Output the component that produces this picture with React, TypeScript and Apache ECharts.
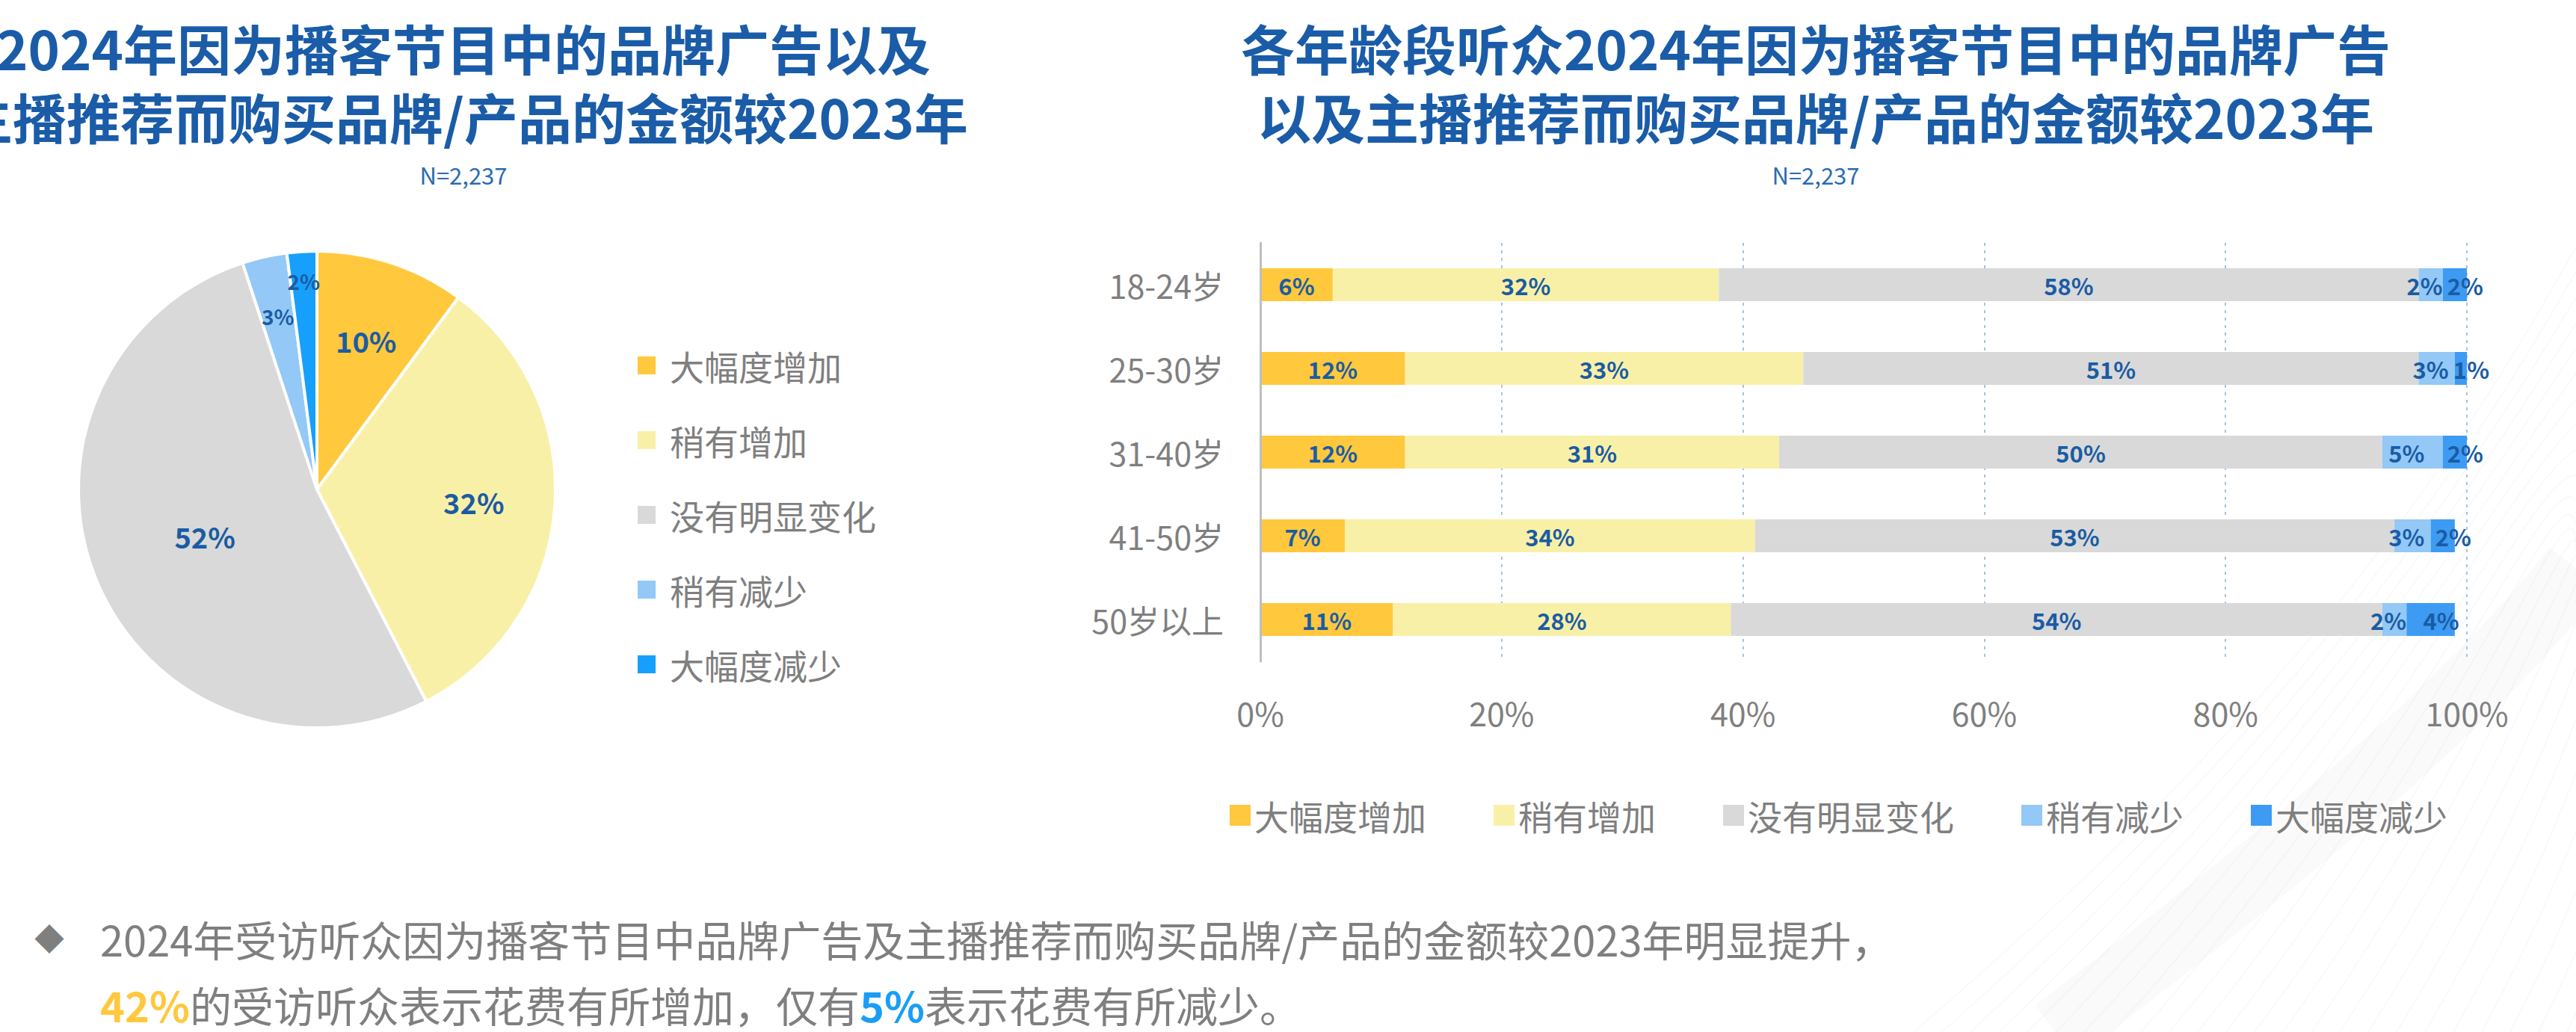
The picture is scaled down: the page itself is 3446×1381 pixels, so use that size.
import React, { useEffect, useRef } from 'react';
import * as echarts from 'echarts';

// Response categories (shared by both charts)
const SERIES_NAMES = ['大幅度增加', '稍有增加', '没有明显变化', '稍有减少', '大幅度减少'];

// Overall share of respondents (%)
const PIE_VALUES = [10, 32, 52, 3, 2];

// Breakdown by age group (%)
const AGE_GROUPS = ['18-24岁', '25-30岁', '31-40岁', '41-50岁', '50岁以上'];
const BIG_INCREASE = [6, 12, 12, 7, 11];
const SLIGHT_INCREASE = [32, 33, 31, 34, 28];
const NO_CHANGE = [58, 51, 50, 53, 54];
const SLIGHT_DECREASE = [2, 3, 5, 3, 2];
const BIG_DECREASE = [2, 1, 2, 2, 4];
const BAR_DATA = [BIG_INCREASE, SLIGHT_INCREASE, NO_CHANGE, SLIGHT_DECREASE, BIG_DECREASE];

// Value axis ticks
const X_MIN = 0;
const X_MAX = 100;
const X_STEP = 20;

const SAMPLE_SIZE = 'N=2,237';
const LEFT_TITLE = ['2024年因为播客节目中的品牌广告以及', '主播推荐而购买品牌/产品的金额较2023年'];
const RIGHT_TITLE = ['各年龄段听众2024年因为播客节目中的品牌广告', '以及主播推荐而购买品牌/产品的金额较2023年'];
const SUMMARY_LINE_1 = '2024年受访听众因为播客节目中品牌广告及主播推荐而购买品牌/产品的金额较2023年明显提升，';
const SUMMARY_INCREASE = '42%';
const SUMMARY_MID = '的受访听众表示花费有所增加，仅有';
const SUMMARY_DECREASE = '5%';
const SUMMARY_END = '表示花费有所减少。';

const PIE_COLORS = ['#FFC83D', '#F9F0A8', '#D9D9D9', '#93C8F7', '#17A0FB'];
const BAR_COLORS = ['#FFC83D', '#F9F0A8', '#D9D9D9', '#93C8F7', '#3D9BF3'];
const TITLE_BLUE = '#1A5CA8';
const LABEL_BLUE = '#1A5CA3';
const GRAY_TEXT = '#7F7F7F';
const FONT = "'Noto Sans CJK SC', 'Noto Sans', sans-serif";

// Pie geometry; label rings put each slice label at its own radius
const PIE_CENTER = [424, 655];
const PIE_R = 319;
const RING_INNER = [0, 96, 150, 235];
const PIE_LABEL_RING = [1, 1, 0, 2, 3];

// Horizontal nudge of the bar labels per series (keeps the two thin end labels apart)
const BAR_LABEL_SHIFT = [0, 0, 0, -8, 14];

function buildBackgroundLines() {
  const lines: any[] = [];
  for (let i = 0; i < 26; i++) {
    lines.push({
      type: 'bezierCurve',
      silent: true,
      z: -10,
      shape: {
        x1: 2560 + i * 38,
        y1: 1381,
        cpx1: 2980 + i * 30,
        cpy1: 1020 - i * 6,
        cpx2: 3230 + i * 18,
        cpy2: 720 - i * 10,
        x2: 3446,
        y2: 330 + i * 34,
      },
      style: { stroke: 'rgba(0,0,0,0.022)', lineWidth: 2, fill: 'none' },
    });
  }
  lines.push({
    type: 'bezierCurve',
    silent: true,
    z: -11,
    shape: { x1: 2750, y1: 1381, cpx1: 3050, cpy1: 1150, cpx2: 3300, cpy2: 950, x2: 3446, y2: 760 },
    style: { stroke: 'rgba(0,0,0,0.02)', lineWidth: 90, fill: 'none' },
  });
  return lines;
}

function buildOption(): any {
  const pieSeries = RING_INNER.map((inner, ring) => ({
    type: 'pie',
    center: PIE_CENTER,
    radius: [inner, PIE_R],
    startAngle: 90,
    clockwise: true,
    silent: true,
    z: ring === 0 ? 2 : 3,
    emphasis: { disabled: true },
    labelLine: { show: false },
    itemStyle: ring === 0 ? { borderColor: '#FFFFFF', borderWidth: 4 } : { color: 'rgba(0,0,0,0)', borderWidth: 0 },
    label: {
      position: 'inside',
      formatter: '{c}%',
      color: LABEL_BLUE,
      fontFamily: FONT,
      fontWeight: 'bold',
      fontSize: ring <= 1 ? 38 : 28,
    },
    data: PIE_VALUES.map((v, i) => ({
      name: SERIES_NAMES[i],
      value: v,
      itemStyle: ring === 0 ? { color: PIE_COLORS[i] } : { color: 'rgba(0,0,0,0)' },
      label: { show: PIE_LABEL_RING[i] === ring },
    })),
  }));

  const barSeries = SERIES_NAMES.map((name, i) => ({
    type: 'bar',
    name,
    stack: 'total',
    data: BAR_DATA[i],
    barWidth: 44,
    silent: true,
    itemStyle: { color: BAR_COLORS[i] },
    label: {
      show: true,
      position: 'inside',
      offset: [BAR_LABEL_SHIFT[i], 0],
      formatter: '{c}%',
      color: LABEL_BLUE,
      fontFamily: FONT,
      fontWeight: 'bold',
      fontSize: 31,
    },
  }));

  const titleStyle = (t: string) => ({
    text: t,
    fill: TITLE_BLUE,
    font: `bold 72px ${FONT}`,
    lineHeight: 84,
    align: 'center',
    verticalAlign: 'middle',
  });

  const titleTexts: any[] = [];
  LEFT_TITLE.forEach((t, i) => {
    titleTexts.push({ type: 'text', x: 620, y: 62 + i * 92, style: titleStyle(t) });
  });
  RIGHT_TITLE.forEach((t, i) => {
    titleTexts.push({ type: 'text', x: 2429, y: 62 + i * 92, style: titleStyle(t) });
  });
  [620, 2429].forEach((x) => {
    titleTexts.push({
      type: 'text',
      x,
      y: 233,
      style: { text: SAMPLE_SIZE, fill: '#2A6BB0', font: `31px ${FONT}`, align: 'center', verticalAlign: 'middle' },
    });
  });

  const summary: any[] = [
    {
      type: 'text',
      x: 66,
      y: 1255,
      style: { text: '◆', fill: GRAY_TEXT, font: `40px ${FONT}`, align: 'center', verticalAlign: 'middle' },
    },
    {
      type: 'text',
      x: 134,
      y: 1255,
      style: {
        text: SUMMARY_LINE_1,
        fill: GRAY_TEXT,
        font: `56px ${FONT}`,
        lineHeight: 62,
        align: 'left',
        verticalAlign: 'middle',
      },
    },
    {
      type: 'text',
      x: 134,
      y: 1343,
      style: {
        text: `{o|${SUMMARY_INCREASE}}{n|${SUMMARY_MID}}{b|${SUMMARY_DECREASE}}{n|${SUMMARY_END}}`,
        align: 'left',
        verticalAlign: 'middle',
        rich: {
          o: { fill: '#FFC83D', fontSize: 56, lineHeight: 60, fontWeight: 'bold', fontFamily: FONT },
          b: { fill: '#1A9EF5', fontSize: 56, lineHeight: 60, fontWeight: 'bold', fontFamily: FONT },
          n: { fill: GRAY_TEXT, fontSize: 56, lineHeight: 60, fontFamily: FONT },
        },
      },
    },
  ];

  return {
    animation: false,
    backgroundColor: '#FFFFFF',
    textStyle: { fontFamily: FONT },
    legend: [
      {
        orient: 'vertical',
        left: 848,
        top: 459,
        icon: 'rect',
        itemWidth: 24,
        itemHeight: 24,
        itemGap: 50,
        selectedMode: false,
        textStyle: { fontSize: 46, color: GRAY_TEXT, lineHeight: 50, padding: [0, 0, 0, 14], fontFamily: FONT },
        data: SERIES_NAMES.map((name, i) => ({ name, itemStyle: { color: PIE_COLORS[i] } })),
      },
      {
        orient: 'horizontal',
        left: 1640,
        top: 1060,
        icon: 'rect',
        itemWidth: 28,
        itemHeight: 28,
        itemGap: 90,
        selectedMode: false,
        textStyle: { fontSize: 46, color: GRAY_TEXT, lineHeight: 52, fontFamily: FONT },
        data: SERIES_NAMES.map((name, i) => ({ name, itemStyle: { color: BAR_COLORS[i] } })),
      },
    ],
    grid: { left: 1686, right: 146, top: 325, bottom: 496, containLabel: false },
    xAxis: {
      type: 'value',
      min: X_MIN,
      max: X_MAX,
      interval: X_STEP,
      axisLine: { show: false },
      axisTick: { show: false },
      splitLine: { show: true, lineStyle: { color: '#A9C2DE', width: 2, type: [4, 6] } },
      axisLabel: { formatter: '{value}%', fontSize: 43, color: GRAY_TEXT, margin: 46, fontFamily: FONT },
    },
    yAxis: {
      type: 'category',
      data: AGE_GROUPS,
      inverse: true,
      z: 5,
      axisLine: { show: true, lineStyle: { color: '#BFBFBF', width: 3 } },
      axisTick: { show: false },
      axisLabel: { fontSize: 43, color: GRAY_TEXT, margin: 49, fontFamily: FONT },
    },
    series: [...pieSeries, ...barSeries],
    graphic: [...buildBackgroundLines(), ...titleTexts, ...summary],
  };
}

export default function App() {
  const ref = useRef<HTMLDivElement>(null);
  useEffect(() => {
    if (!ref.current) return;
    const chart = echarts.init(ref.current, undefined, { renderer: 'svg' });
    chart.setOption(buildOption());
    return () => chart.dispose();
  }, []);
  return (
    <div
      ref={ref}
      style={{ position: 'fixed', left: 0, top: 0, width: 3446, height: 1381, background: '#FFFFFF' }}
    />
  );
}
